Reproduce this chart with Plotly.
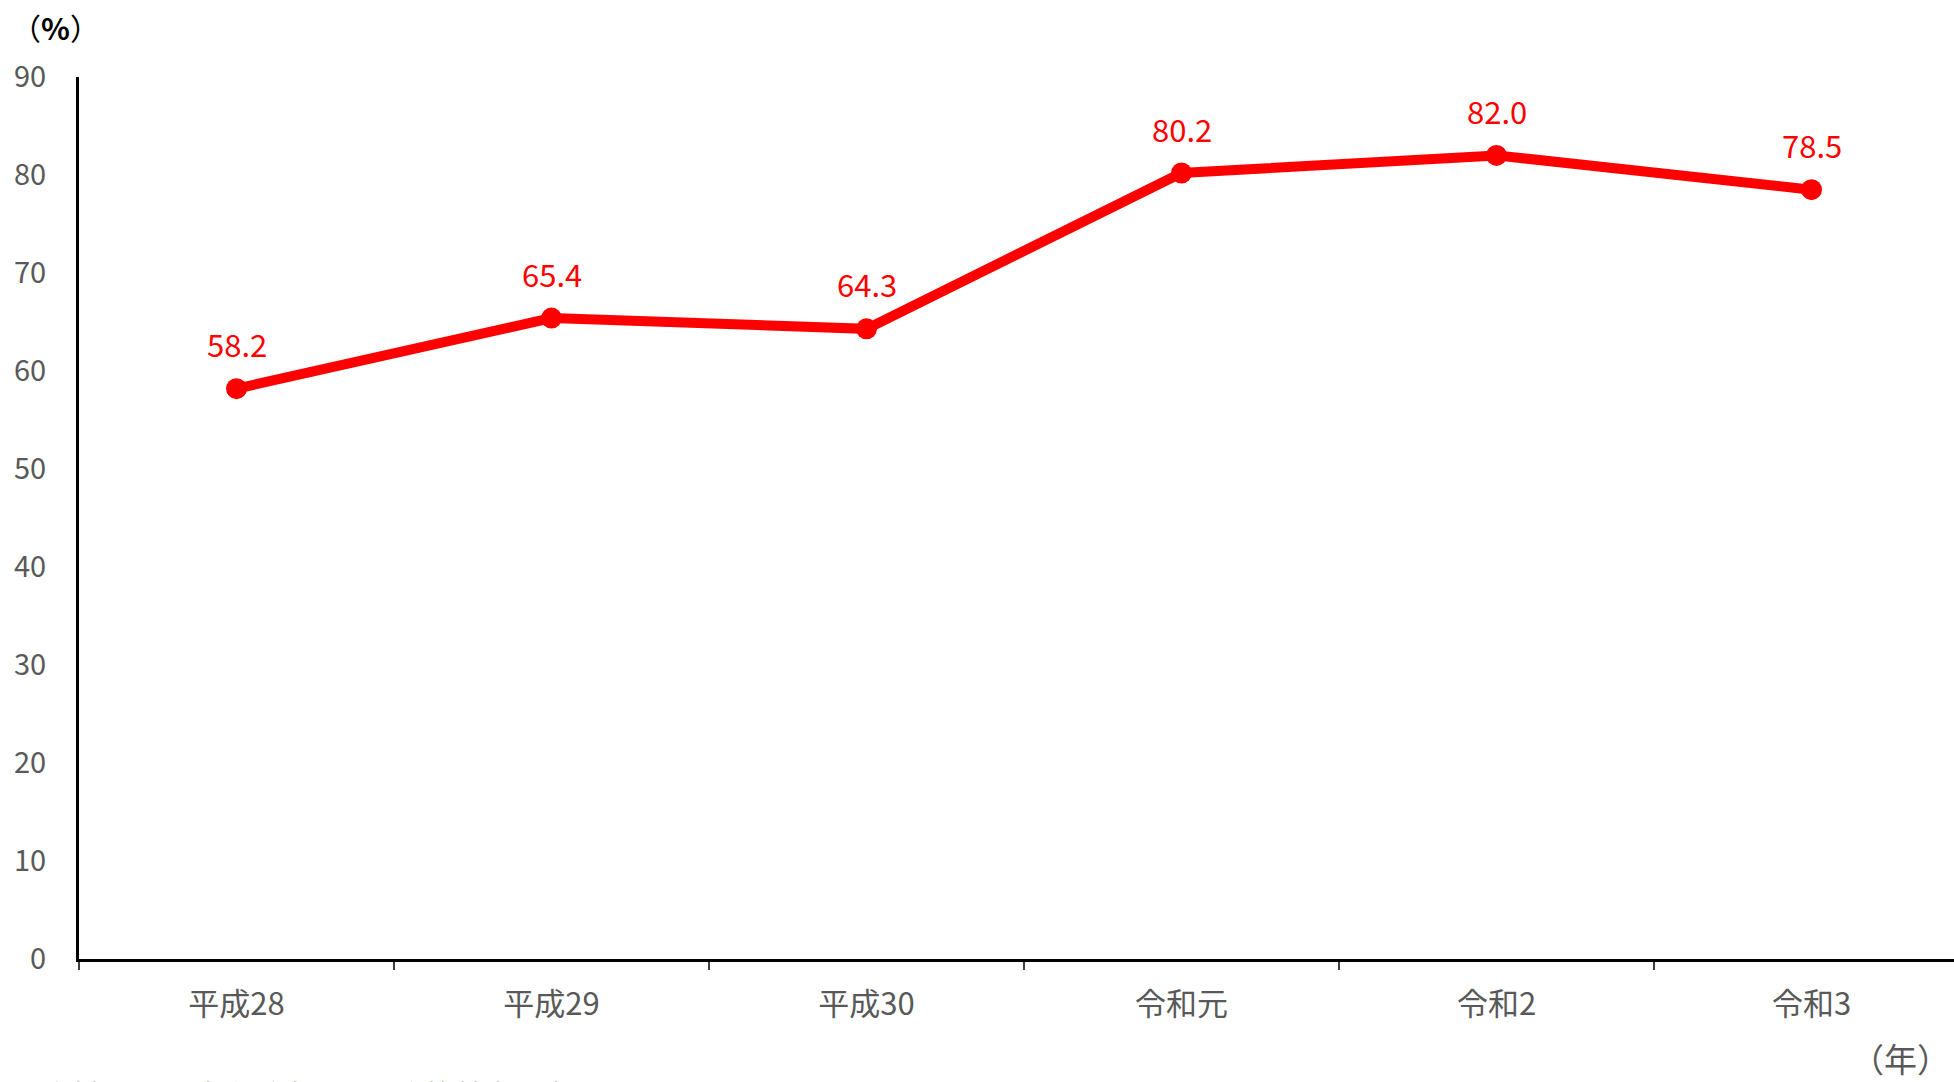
import plotly.graph_objects as go

# Survey years and the share (%) for each year
years = ["平成28", "平成29", "平成30", "令和元", "令和2", "令和3"]
rates = [58.2, 65.4, 64.3, 80.2, 82.0, 78.5]
y_ticks = [0, 10, 20, 30, 40, 50, 60, 70, 80, 90]

FONT = "Noto Sans CJK JP"
RED = "#FF0000"
GRAY = "#595959"

W, H = 1954, 1082
LEFT, PLOT_TOP, PLOT_BOTTOM = 79, 77, 959
CAT_WIDTH = 315.0


def px(p):
    """pixel column -> paper x"""
    return (p - LEFT) / (W - LEFT)


def py(p):
    """pixel row -> paper y"""
    return (PLOT_BOTTOM - p) / (PLOT_BOTTOM - PLOT_TOP)


fig = go.Figure()
fig.add_trace(go.Scatter(
    x=years,
    y=rates,
    mode="lines+markers",
    line=dict(color=RED, width=10),
    marker=dict(color=RED, size=21),
    hoverinfo="x+y",
    showlegend=False,
))

# value labels above each point
for yr, v in zip(years, rates):
    fig.add_annotation(
        x=yr, y=v, xref="x", yref="y",
        text=f"{v:.1f}",
        showarrow=False,
        yshift=45,
        font=dict(family=FONT, size=31, color=RED),
    )

# unit labels and source note
fig.add_annotation(
    x=px(55), y=py(27), xref="paper", yref="paper", text="（<b>%</b>）",
    showarrow=False, xanchor="center", yanchor="middle",
    font=dict(family=FONT, size=30, color="#000000"),
)
fig.add_annotation(
    x=px(1952), y=py(1058), xref="paper", yref="paper", text="（年）",
    showarrow=False, xanchor="right", yanchor="middle",
    font=dict(family=FONT, size=33, color=GRAY),
)
fig.add_annotation(
    x=px(40), y=py(1071), xref="paper", yref="paper",
    text="資料出所 厚生労働省「雇用均等基本調査」",
    showarrow=False, xanchor="left", yanchor="top",
    font=dict(family=FONT, size=29, color="#000000"),
)

fig.update_layout(
    width=W, height=H,
    margin=dict(l=LEFT, r=0, t=PLOT_TOP, b=H - PLOT_BOTTOM),
    paper_bgcolor="white",
    plot_bgcolor="white",
    font=dict(family=FONT),
)

fig.update_xaxes(
    type="category",
    range=[-0.5, -0.5 + (W - LEFT) / CAT_WIDTH],
    showline=True, linecolor="#000000", linewidth=3,
    ticks="outside", tickson="boundaries", ticklen=8, tickwidth=2, tickcolor="#404040",
    ticklabelstandoff=16,
    tickfont=dict(family=FONT, size=31, color=GRAY),
    showgrid=False, zeroline=False,
)
fig.update_yaxes(
    range=[0, 90],
    tickvals=y_ticks,
    showline=True, linecolor="#000000", linewidth=3,
    ticks="", ticklabelstandoff=24,
    tickfont=dict(family=FONT, size=29, color=GRAY),
    showgrid=False, zeroline=False,
)

fig.write_html("out.html")
